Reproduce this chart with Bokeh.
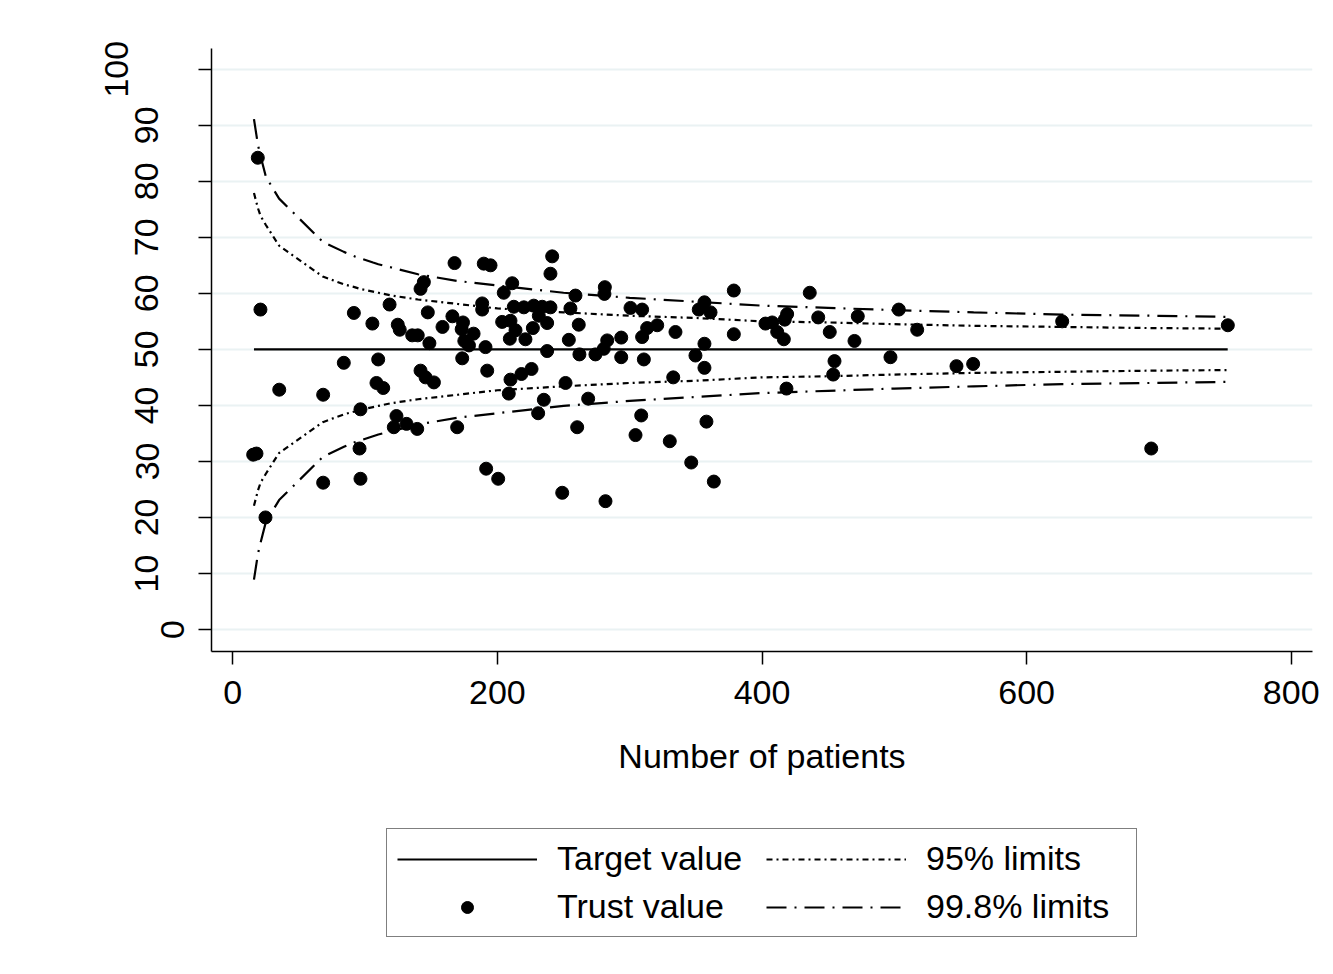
from bokeh.plotting import figure
from bokeh.layouts import column
from bokeh.models import Range1d, Legend, LegendItem, FixedTicker, LinearAxis
from bokeh.embed import file_html
from bokeh.resources import INLINE

# ---- data ----
n_patients = [15.4, 17.9, 18.9, 20.9, 24.7, 35.1, 68.3, 68.3, 83.9, 91.5, 95.8, 96.5, 96.5,
              105.5, 109.9, 108.6, 113.7, 118.5, 124.7, 126.2, 123.7, 121.7, 131.3, 139.4,
              135.6, 139.8, 141.9, 145.7, 152.0, 144.4, 141.9, 147.4, 148.6, 158.5, 166.0,
              167.6, 169.6, 173.4, 174.0, 173.0, 182.0, 175.0, 178.5, 189.7, 194.8, 188.5,
              188.5, 191.0, 192.3, 191.5, 200.6, 204.8, 203.6, 209.9, 213.7, 209.4, 221.2,
              211.2, 212.4, 220.0, 227.5, 233.9, 240.1, 208.6, 209.9, 218.2, 225.8, 226.8,
              231.3, 237.6, 237.6, 235.1, 230.8, 240.1, 241.4, 249.0, 251.5, 254.0, 255.2,
              259.0, 260.3, 261.5, 262.0, 268.6, 274.1, 280.4, 283.0, 281.2, 280.9, 281.7,
              293.6, 293.6, 300.6, 304.4, 308.7, 309.4, 309.4, 310.7, 313.2, 320.8, 330.3,
              332.9, 334.6, 346.5, 349.7, 352.2, 356.5, 356.5, 356.5, 358.0, 361.1, 363.6,
              378.7, 378.7, 402.6, 407.7, 411.5, 416.5, 419.0, 417.2, 418.5, 436.1, 442.5,
              451.2, 454.8, 453.8, 469.9, 472.4, 497.1, 503.4, 517.3, 547.0, 559.6, 626.9,
              694.2, 752.1]
trust_value = [31.2, 31.4, 84.2, 57.1, 20.0, 42.8, 41.9, 26.2, 47.6, 56.5, 32.3, 39.3, 26.9,
               54.6, 48.2, 44.0, 43.1, 58.0, 54.4, 53.5, 38.1, 36.1, 36.7, 35.8,
               52.5, 52.5, 46.2, 45.0, 44.1, 62.0, 60.8, 56.6, 51.1, 54.0, 55.9,
               65.4, 36.1, 48.4, 54.8, 53.6, 52.8, 51.5, 50.7, 65.3, 65.0, 58.2,
               57.1, 50.4, 46.2, 28.7, 26.9, 60.1, 54.9, 55.1, 53.4, 51.9, 51.8,
               61.8, 57.6, 57.5, 57.8, 57.6, 57.5, 42.1, 44.6, 45.6, 46.5, 53.8,
               56.0, 54.7, 49.7, 41.0, 38.6, 63.5, 66.6, 24.4, 44.0, 51.7, 57.3,
               59.6, 36.1, 54.4, 49.1, 41.2, 49.1, 50.1, 51.6, 61.1, 59.9, 22.9,
               52.1, 48.6, 57.4, 34.7, 38.2, 57.1, 52.2, 48.2, 53.8, 54.3, 33.6,
               45.0, 53.1, 29.8, 48.9, 57.1, 58.4, 51.0, 46.7, 37.1, 56.6, 26.4,
               60.5, 52.7, 54.6, 54.8, 53.1, 51.8, 56.3, 55.3, 43.0, 60.1, 55.7,
               53.1, 47.9, 45.5, 51.5, 55.9, 48.6, 57.1, 53.5, 47.0, 47.4, 55.0,
               32.3, 54.3]

limit_n = [16, 19, 21, 25, 35, 68, 84, 92, 96, 106, 110, 120, 140, 170, 200, 250, 300,
           350, 400, 450, 500, 560, 627, 694, 752]
upper_998 = [91.1, 86.5, 84.5, 80.8, 76.9, 69.2, 67.4, 66.6, 66.3, 65.5, 65.2, 64.6, 63.4,
             62.2, 61.4, 60.1, 59.2, 58.5, 57.8, 57.4, 57.0, 56.6, 56.2, 56.0, 55.8]
lower_998 = [8.9, 13.5, 15.5, 19.2, 23.1, 30.8, 32.6, 33.4, 33.7, 34.5, 34.8, 35.4, 36.6,
             37.8, 38.6, 39.9, 40.8, 41.5, 42.2, 42.6, 43.0, 43.4, 43.8, 44.0, 44.2]
upper_95 = [77.9, 75.2, 73.8, 72.2, 68.5, 63.0, 61.6, 61.1, 60.8, 60.3, 60.1, 59.6, 58.9,
            58.1, 57.3, 56.6, 56.0, 55.6, 55.0, 54.8, 54.5, 54.2, 54.0, 53.8, 53.7]
lower_95 = [22.1, 24.8, 26.2, 27.8, 31.5, 37.0, 38.4, 38.9, 39.2, 39.7, 39.9, 40.4, 41.1,
            41.9, 42.7, 43.4, 44.0, 44.4, 45.0, 45.2, 45.5, 45.8, 46.0, 46.2, 46.3]
target_n = [16, 752]
target_value = [50, 50]

x_ticks = [0, 200, 400, 600, 800]
y_ticks = [0, 10, 20, 30, 40, 50, 60, 70, 80, 90, 100]
y_tick_labels = [str(t) for t in y_ticks]
legend_labels = ["Target value", "Trust value", "95% limits", "99.8% limits"]

FONT = "Liberation Sans"
DASH95 = "6 4 2 4"
DASH998 = "20 8 2 8"
LW = 2.2

p = figure(width=1325, height=790, output_backend="svg", toolbar_location=None,
           x_range=Range1d(-16.1, 816.1), y_range=Range1d(-3.93, 103.7),
           min_border_left=211, min_border_right=13, min_border_top=48,
           min_border_bottom=139)
p.outline_line_color = None

p.xgrid.visible = False
p.ygrid.ticker = FixedTicker(ticks=y_ticks)
p.ygrid.grid_line_color = "#EAF2F3"
p.ygrid.grid_line_width = 2

p.xaxis.ticker = FixedTicker(ticks=x_ticks)
p.yaxis.ticker = FixedTicker(ticks=y_ticks)
for ax in (p.xaxis, p.yaxis):
    ax.axis_line_color = "black"
    ax.axis_line_width = 1.5
    ax.major_tick_line_color = "black"
    ax.major_tick_line_width = 1.5
    ax.major_tick_out = 13
    ax.major_tick_in = 0
    ax.minor_tick_line_color = None
    ax.major_label_text_font = FONT
    ax.major_label_text_font_size = "34px"
    ax.major_label_text_color = "black"
p.xaxis.major_label_standoff = 16
p.xaxis.axis_label = "Number of patients"
p.xaxis.axis_label_text_font = FONT
p.xaxis.axis_label_text_font_size = "34px"
p.xaxis.axis_label_text_font_style = "normal"
p.xaxis.axis_label_text_color = "black"
p.xaxis.axis_label_standoff = 30

# vertical y tick labels: the reference staggers them by their length,
# so one-, two- and three-digit labels sit on three stacked axes
def label_subset(n_chars):
    return {t: (s if len(s) == n_chars else "") for t, s in zip(y_ticks, y_tick_labels)}

p.yaxis.major_label_orientation = "vertical"
p.yaxis.major_label_overrides = label_subset(1)
p.yaxis.major_label_standoff = 14
for n_chars, standoff in ((2, 0), (3, 4)):
    extra = LinearAxis(ticker=FixedTicker(ticks=y_ticks))
    extra.axis_line_color = None
    extra.major_tick_line_color = None
    extra.major_tick_out = 0
    extra.major_tick_in = 0
    extra.minor_tick_line_color = None
    extra.major_label_orientation = "vertical"
    extra.major_label_overrides = label_subset(n_chars)
    extra.major_label_standoff = standoff
    extra.major_label_text_font = FONT
    extra.major_label_text_font_size = "34px"
    extra.major_label_text_color = "black"
    p.add_layout(extra, "left")

p.line(target_n, target_value, line_color="black", line_width=LW)
p.line(limit_n, upper_95, line_color="black", line_width=LW, line_dash=DASH95)
p.line(limit_n, lower_95, line_color="black", line_width=LW, line_dash=DASH95)
p.line(limit_n, upper_998, line_color="black", line_width=LW, line_dash=DASH998)
p.line(limit_n, lower_998, line_color="black", line_width=LW, line_dash=DASH998)
p.scatter(n_patients, trust_value, size=13, marker="circle",
          fill_color="black", line_color="black")

# ---- legend panel below the plot ----
pl = figure(width=1325, height=176, output_backend="svg", toolbar_location=None,
            x_range=Range1d(0, 1), y_range=Range1d(0, 1),
            x_axis_type=None, y_axis_type=None,
            min_border_left=0, min_border_right=0, min_border_top=0, min_border_bottom=0)
pl.outline_line_color = None
pl.grid.visible = False
off = [-5, -4]
k_target = pl.line(off, off, line_color="black", line_width=LW)
k_pts = pl.scatter(off, off, size=13, marker="circle", fill_color="black", line_color="black")
k95 = pl.line(off, off, line_color="black", line_width=LW, line_dash=DASH95)
k998 = pl.line(off, off, line_color="black", line_width=LW, line_dash=DASH998)

legend = Legend(items=[LegendItem(label=legend_labels[0], renderers=[k_target]),
                       LegendItem(label=legend_labels[1], renderers=[k_pts]),
                       LegendItem(label=legend_labels[2], renderers=[k95]),
                       LegendItem(label=legend_labels[3], renderers=[k998])],
                location=(175, 29), ncols=2)
legend.border_line_color = "black"
legend.border_line_width = 1
legend.background_fill_color = "white"
legend.background_fill_alpha = 1
legend.label_text_font = FONT
legend.label_text_font_size = "34px"
legend.label_text_color = "black"
legend.glyph_width = 140
legend.glyph_height = 30
legend.label_standoff = 20
legend.label_width = 200
legend.spacing = 9
legend.padding = 10
legend.margin = 0
pl.add_layout(legend)

layout = column(p, pl, spacing=0)
open("out.html", "w").write(file_html(layout, INLINE))
